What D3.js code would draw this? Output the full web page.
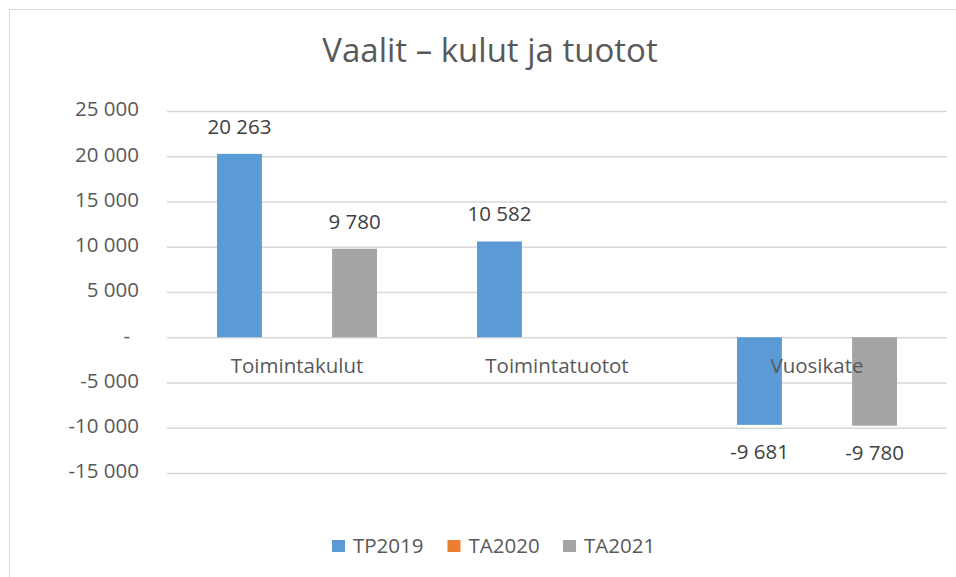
<!DOCTYPE html>
<html>
<head>
<meta charset="utf-8">
<script src="https://cdn.jsdelivr.net/npm/d3@7"></script>
<style>
  body { margin: 0; background: #fff; }
  svg text { font-family: 'Open Sans', 'Noto Sans', sans-serif; }
</style>
</head>
<body>
<div id="chart"></div>
<script>
const categories = ['Toimintakulut', 'Toimintatuotot', 'Vuosikate'];
const seriesNames = ['TP2019', 'TA2020', 'TA2021'];
const tp2019 = [20263, 10582, -9681];
const ta2020 = [null, null, null];
const ta2021 = [9780, null, -9780];
const yTicks = [-15000, -10000, -5000, 0, 5000, 10000, 15000, 20000, 25000];

const COLORS = {
  series: ['#5b9bd5', '#ed7d31', '#a5a5a5'],
  grid: '#d9d9d9',
  axisText: '#595959',
  label: '#404040',
  title: '#595959'
};

const W = 956, H = 577;
const PLOT = { left: 167, right: 947, top: 111, bottom: 473 };
const FONT = 20.5;

const svg = d3.select('#chart').append('svg')
  .attr('width', W)
  .attr('height', H);

// chart frame (cut off at right and bottom in the original)
svg.append('rect')
  .attr('x', 9.5).attr('y', 9.5)
  .attr('width', W + 20).attr('height', H + 20)
  .attr('fill', '#fff')
  .attr('stroke', COLORS.grid);

const values = [tp2019, ta2020, ta2021];
const rows = categories.map((c, i) => ({
  cat: c,
  bars: seriesNames.map((s, j) => ({ series: s, idx: j, value: values[j][i] }))
}));

var y = d3.scaleLinear()
  .domain([-15000, 25000])
  .range([PLOT.bottom, PLOT.top]);

var x0 = d3.scaleBand()
  .domain(categories)
  .range([PLOT.left, PLOT.right])
  .paddingInner(0.336)
  .paddingOuter(0.168);

var x1 = d3.scaleBand()
  .domain(seriesNames)
  .range([0, x0.bandwidth()])
  .paddingInner(0.22)
  .paddingOuter(0.11);

// "20 263", "-9 681", zero shown as "-"
const fmt = v => v === 0 ? '-' : (v < 0 ? '-' : '') + d3.format(',d')(Math.abs(v)).replace(/,/g, ' ');

// Title
svg.append('text')
  .text('Vaalit \u2013 kulut ja tuotot')
  .attr('x', 490)
  .attr('y', 62)
  .attr('text-anchor', 'middle')
  .attr('font-size', 33)
  .attr('fill', COLORS.title);

// Gridlines + y labels via axis
const yAxis = svg.append('g')
  .attr('transform', `translate(${PLOT.left},0)`)
  .call(d3.axisLeft(y)
    .tickValues(yTicks)
    .tickSize(-(PLOT.right - PLOT.left))
    .tickPadding(28)
    .tickFormat(fmt));
yAxis.select('.domain').remove();
yAxis.selectAll('.tick line')
  .attr('stroke', COLORS.grid)
  .attr('stroke-width', 1.3);
yAxis.selectAll('.tick text')
  .attr('fill', COLORS.axisText)
  .attr('font-size', FONT)
  .attr('dy', '0.24em')
  .attr('dx', d => d === 0 ? -9 : 0);

// Bars
const groups = svg.selectAll('.cat')
    .data(rows)
  .enter().append('g')
    .classed('cat', true)
    .attr('transform', d => `translate(${x0(d.cat)},0)`);

groups.selectAll('rect')
    .data(d => d.bars.filter(b => b.value !== null))
  .enter().append('rect')
    .attr('x', d => x1(d.series))
    .attr('width', x1.bandwidth())
    .attr('y', d => y(Math.max(0, d.value)))
    .attr('height', d => Math.abs(y(d.value) - y(0)))
    .attr('fill', d => COLORS.series[d.idx]);

// Category labels (next to the zero line)
svg.selectAll('.cat-label')
    .data(categories)
  .enter().append('text')
    .classed('cat-label', true)
    .text(d => d)
    .attr('x', d => x0(d) + x0.bandwidth() / 2)
    .attr('y', y(0) + 36)
    .attr('text-anchor', 'middle')
    .attr('font-size', FONT)
    .attr('fill', COLORS.axisText);

// Data labels
groups.selectAll('.val')
    .data(d => d.bars.filter(b => b.value !== null && b.value !== 0))
  .enter().append('text')
    .classed('val', true)
    .text(d => fmt(d.value))
    .attr('x', d => x1(d.series) + x1.bandwidth() / 2)
    .attr('y', d => d.value >= 0 ? y(d.value) - 20 : y(d.value) + 34)
    .attr('text-anchor', 'middle')
    .attr('font-size', FONT)
    .attr('fill', COLORS.label);

// Legend
const legend = svg.selectAll('.legend')
    .data(seriesNames)
  .enter().append('g')
    .classed('legend', true)
    .attr('transform', (d, i) => `translate(${332 + i * 115.5},540)`);
legend.append('rect')
  .attr('width', 13).attr('height', 12)
  .attr('fill', (d, i) => COLORS.series[i]);
legend.append('text')
  .text(d => d)
  .attr('x', 21)
  .attr('y', 13)
  .attr('font-size', FONT)
  .attr('fill', COLORS.axisText);
</script>
</body>
</html>
